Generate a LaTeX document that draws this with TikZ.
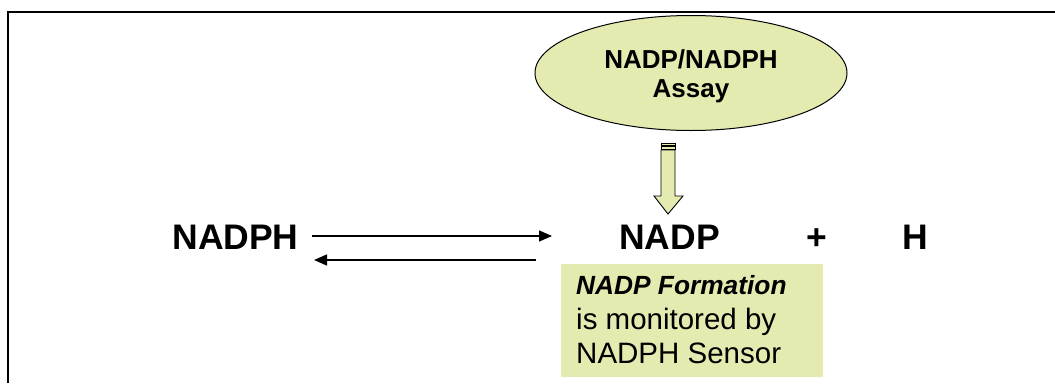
\documentclass[tikz,border=0pt]{standalone}
\usepackage{fontspec}
\setmainfont{Liberation Sans}
\usetikzlibrary{shapes.geometric,arrows.meta}
\definecolor{paleyel}{RGB}{229,235,176}
\begin{document}
\begin{tikzpicture}[x=1pt,y=-1pt,
  chem/.style={font=\fontsize{35.5}{40}\selectfont\bfseries, inner sep=0pt, anchor=base},
  rxn/.style={line width=1.4pt, -{Triangle[length=13pt,width=11pt]}},
  assay/.style={ellipse, draw=black, line width=1pt, fill=paleyel, minimum width=312pt, minimum height=115pt, inner sep=0pt, align=center, font=\fontsize{26}{29}\selectfont\bfseries},
  notebox/.style={fill=paleyel, minimum width=262pt, minimum height=113pt, inner sep=0pt, anchor=north west},
  notetext/.style={inner sep=0pt, align=left, anchor=north west, font=\fontsize{29.5}{34.4}\selectfont},
  blockarrow/.style={draw=black, line width=0.9pt, fill=paleyel, line join=miter}
]
\useasboundingbox (0,0) rectangle (1055,383);
\draw[line width=2pt] (8,383) -- (8,12) -- (1055,12);

\node[assay] (assay) at (691,73) {\rule{0pt}{25.6pt}NADP/NADPH\\Assay};

\node[chem] (nadph) at (235.5,249) {NADPH};
\node[chem] (nadp) at (669.5,249) {NADP};
\node[chem] (plus) at (817,249) {+};
\node[chem] (h) at (915.5,249) {H};

\coordinate (fwdS) at (312,236);
\coordinate (fwdE) at (552,236);
\coordinate (revS) at (536,260);
\coordinate (revE) at (314,260);
\draw[rxn] (fwdS) -- (fwdE);
\draw[rxn] (revS) -- (revE);

% striped block arrow from assay to NADP
\draw[blockarrow] (661,143) rectangle (675,145.5);
\draw[blockarrow] (661,146.5) rectangle (675,149);
\draw[blockarrow] (661,150) -- (675,150) -- (675,196) -- (683,196) -- (668,214) -- (654,196) -- (661,196) -- cycle;

\node[notebox] (note) at (561,264) {};
\node[notetext] (notet) at (576,275.5) {{\fontsize{26.3}{34.4}\selectfont\bfseries\itshape NADP Formation}\\is monitored by\\NADPH Sensor};
\end{tikzpicture}
\end{document}
